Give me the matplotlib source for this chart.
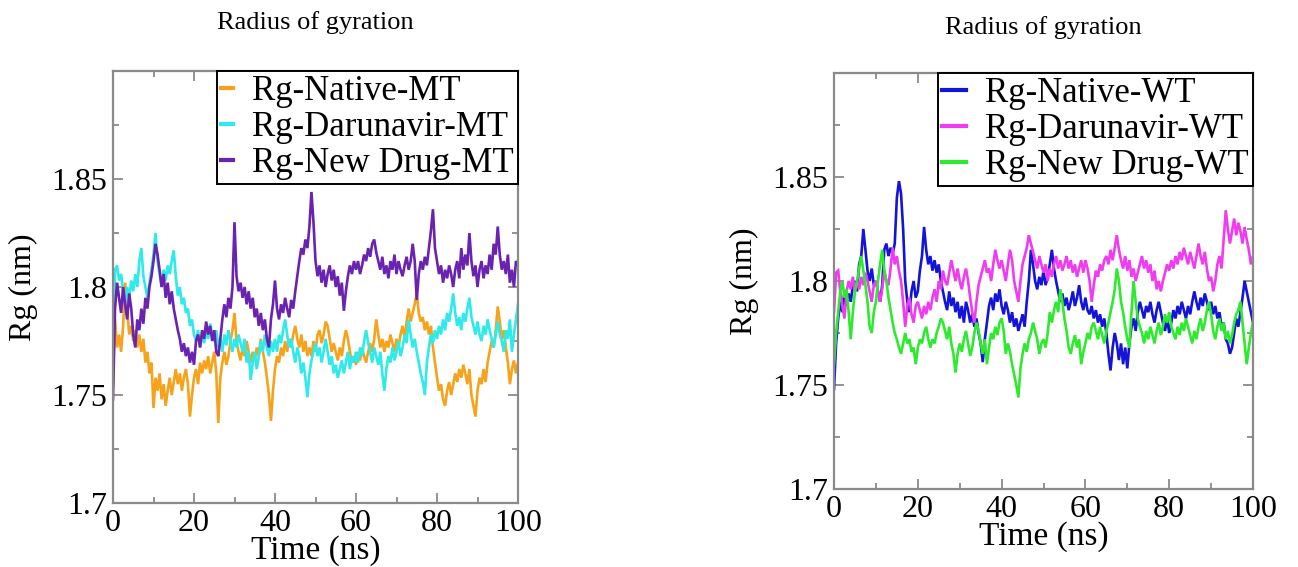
import numpy as np
import matplotlib
matplotlib.use("Agg")
import matplotlib.pyplot as plt
from matplotlib.ticker import FixedLocator, MultipleLocator

plt.rcParams['font.family'] = ['Liberation Serif', 'DejaVu Serif']

# ---------------- data ----------------
time_ns = [i * 0.5 for i in range(201)]

rg_native_mt = [
    1.760, 1.785, 1.772, 1.778, 1.770, 1.782, 1.802, 1.790, 1.778, 1.782,
    1.775, 1.780, 1.772, 1.778, 1.770, 1.776, 1.765, 1.770, 1.760, 1.765,
    1.744, 1.758, 1.752, 1.760, 1.748, 1.755, 1.745, 1.752, 1.758, 1.750,
    1.756, 1.762, 1.755, 1.760, 1.752, 1.758, 1.762, 1.755, 1.740, 1.750,
    1.758, 1.762, 1.755, 1.765, 1.760, 1.766, 1.762, 1.768, 1.760, 1.765,
    1.770, 1.760, 1.737, 1.758, 1.765, 1.770, 1.764, 1.768, 1.775, 1.780,
    1.788, 1.775, 1.770, 1.766, 1.772, 1.768, 1.775, 1.770, 1.765, 1.770,
    1.766, 1.772, 1.768, 1.776, 1.770, 1.765, 1.758, 1.750, 1.738, 1.752,
    1.762, 1.768, 1.765, 1.772, 1.768, 1.775, 1.770, 1.776, 1.772, 1.778,
    1.782, 1.776, 1.772, 1.778, 1.770, 1.775, 1.768, 1.772, 1.768, 1.775,
    1.770, 1.778, 1.780, 1.774, 1.778, 1.784, 1.782, 1.776, 1.770, 1.774,
    1.770, 1.766, 1.772, 1.768, 1.775, 1.780, 1.776, 1.770, 1.765, 1.768,
    1.764, 1.770, 1.766, 1.772, 1.768, 1.765, 1.770, 1.774, 1.770, 1.776,
    1.785, 1.778, 1.772, 1.776, 1.770, 1.775, 1.772, 1.778, 1.774, 1.770,
    1.776, 1.772, 1.778, 1.782, 1.776, 1.784, 1.790, 1.784, 1.788, 1.792,
    1.797, 1.788, 1.784, 1.786, 1.780, 1.784, 1.778, 1.782, 1.772, 1.765,
    1.758, 1.752, 1.755, 1.748, 1.745, 1.752, 1.756, 1.750, 1.755, 1.760,
    1.756, 1.762, 1.758, 1.764, 1.760, 1.755, 1.762, 1.750, 1.745, 1.740,
    1.752, 1.758, 1.755, 1.762, 1.756, 1.765, 1.770, 1.775, 1.772, 1.780,
    1.791, 1.784, 1.776, 1.780, 1.772, 1.765, 1.755, 1.762, 1.766, 1.760,
    1.765,
]

rg_darunavir_mt = [
    1.755, 1.808, 1.810, 1.803, 1.806, 1.798, 1.792, 1.800, 1.795, 1.803,
    1.798, 1.806, 1.800, 1.812, 1.818, 1.805, 1.800, 1.795, 1.802, 1.808,
    1.815, 1.825, 1.812, 1.806, 1.800, 1.808, 1.803, 1.810, 1.806, 1.812,
    1.817, 1.805, 1.796, 1.800, 1.792, 1.795, 1.788, 1.790, 1.782, 1.785,
    1.778, 1.775, 1.780, 1.772, 1.778, 1.774, 1.780, 1.776, 1.783, 1.778,
    1.775, 1.780, 1.772, 1.776, 1.770, 1.778, 1.773, 1.780, 1.775, 1.770,
    1.776, 1.772, 1.778, 1.774, 1.770, 1.776, 1.765, 1.770, 1.757, 1.765,
    1.770, 1.762, 1.768, 1.775, 1.770, 1.778, 1.772, 1.768, 1.775, 1.770,
    1.776, 1.770, 1.778, 1.774, 1.780, 1.785, 1.778, 1.772, 1.776, 1.770,
    1.765, 1.772, 1.768, 1.760, 1.765, 1.758, 1.749, 1.760, 1.766, 1.770,
    1.774, 1.768, 1.772, 1.765, 1.770, 1.776, 1.770, 1.764, 1.768, 1.760,
    1.764, 1.758, 1.762, 1.766, 1.760, 1.765, 1.770, 1.762, 1.768, 1.765,
    1.770, 1.765, 1.772, 1.768, 1.775, 1.780, 1.774, 1.770, 1.765, 1.772,
    1.768, 1.764, 1.770, 1.760, 1.752, 1.762, 1.768, 1.765, 1.772, 1.766,
    1.770, 1.775, 1.768, 1.772, 1.778, 1.774, 1.785, 1.778, 1.772, 1.776,
    1.770, 1.765, 1.760, 1.756, 1.750, 1.765, 1.772, 1.778, 1.774, 1.780,
    1.776, 1.782, 1.778, 1.785, 1.780, 1.788, 1.784, 1.790, 1.797, 1.788,
    1.782, 1.786, 1.780, 1.788, 1.784, 1.790, 1.795, 1.786, 1.782, 1.778,
    1.784, 1.778, 1.775, 1.782, 1.778, 1.785, 1.780, 1.776, 1.772, 1.778,
    1.784, 1.778, 1.775, 1.770, 1.780, 1.776, 1.785, 1.770, 1.778, 1.785,
    1.792,
]

rg_newdrug_mt = [
    1.748, 1.790, 1.802, 1.795, 1.788, 1.800, 1.792, 1.785, 1.797, 1.790,
    1.778, 1.772, 1.785, 1.780, 1.790, 1.783, 1.795, 1.790, 1.800, 1.805,
    1.812, 1.820, 1.815, 1.808, 1.800, 1.806, 1.795, 1.802, 1.792, 1.798,
    1.790, 1.785, 1.780, 1.776, 1.770, 1.774, 1.768, 1.772, 1.765, 1.770,
    1.764, 1.775, 1.778, 1.772, 1.780, 1.776, 1.784, 1.778, 1.782, 1.775,
    1.780, 1.770, 1.768, 1.776, 1.785, 1.792, 1.786, 1.795, 1.790, 1.800,
    1.830, 1.805, 1.798, 1.802, 1.795, 1.800, 1.792, 1.798, 1.790, 1.795,
    1.786, 1.790, 1.782, 1.788, 1.780, 1.785, 1.776, 1.772, 1.785, 1.792,
    1.803, 1.790, 1.785, 1.792, 1.788, 1.795, 1.790, 1.786, 1.794, 1.790,
    1.798, 1.805, 1.812, 1.818, 1.815, 1.822, 1.818, 1.828, 1.844, 1.830,
    1.812, 1.805, 1.810, 1.802, 1.808, 1.800, 1.806, 1.810, 1.803, 1.808,
    1.800, 1.805, 1.796, 1.802, 1.789, 1.798, 1.805, 1.810, 1.806, 1.812,
    1.808, 1.812, 1.806, 1.810, 1.815, 1.812, 1.818, 1.814, 1.820, 1.822,
    1.816, 1.812, 1.808, 1.814, 1.806, 1.810, 1.804, 1.812, 1.808, 1.815,
    1.806, 1.812, 1.808, 1.805, 1.810, 1.814, 1.808, 1.812, 1.820, 1.812,
    1.794, 1.806, 1.812, 1.808, 1.814, 1.810, 1.818, 1.826, 1.836, 1.818,
    1.812, 1.806, 1.810, 1.802, 1.808, 1.804, 1.810, 1.806, 1.800, 1.808,
    1.812, 1.804, 1.818, 1.808, 1.815, 1.810, 1.825, 1.812, 1.805, 1.810,
    1.800, 1.808, 1.812, 1.804, 1.810, 1.806, 1.815, 1.808, 1.820, 1.815,
    1.828, 1.815, 1.808, 1.812, 1.806, 1.815, 1.802, 1.808, 1.800, 1.812,
    1.810,
]

rg_native_wt = [
    1.748, 1.770, 1.782, 1.790, 1.785, 1.795, 1.788, 1.794, 1.790, 1.798,
    1.800, 1.795, 1.808, 1.812, 1.825, 1.815, 1.805, 1.800, 1.806, 1.798,
    1.800, 1.795, 1.790, 1.798, 1.815, 1.818, 1.812, 1.816, 1.813, 1.818,
    1.840, 1.848, 1.842, 1.825, 1.800, 1.790, 1.785, 1.795, 1.800, 1.792,
    1.795, 1.805, 1.812, 1.826, 1.815, 1.808, 1.812, 1.805, 1.810, 1.804,
    1.808, 1.800, 1.795, 1.790, 1.786, 1.795, 1.788, 1.792, 1.785, 1.790,
    1.782, 1.788, 1.780, 1.790, 1.786, 1.780, 1.784, 1.778, 1.782, 1.775,
    1.770, 1.761, 1.772, 1.780, 1.788, 1.792, 1.786, 1.794, 1.790, 1.796,
    1.788, 1.784, 1.790, 1.786, 1.780, 1.785, 1.778, 1.782, 1.776, 1.780,
    1.784, 1.778, 1.790, 1.800, 1.815, 1.808, 1.800, 1.796, 1.802, 1.798,
    1.805, 1.798, 1.802, 1.808, 1.815, 1.806, 1.800, 1.795, 1.790, 1.794,
    1.788, 1.792, 1.786, 1.790, 1.795, 1.788, 1.792, 1.798, 1.790, 1.786,
    1.792, 1.786, 1.784, 1.788, 1.782, 1.786, 1.780, 1.784, 1.778, 1.782,
    1.775, 1.765, 1.757, 1.768, 1.775, 1.770, 1.762, 1.770, 1.760, 1.768,
    1.758, 1.770, 1.778, 1.782, 1.776, 1.785, 1.790, 1.786, 1.782, 1.788,
    1.785, 1.790, 1.784, 1.780, 1.786, 1.790, 1.785, 1.780, 1.776, 1.782,
    1.775, 1.780, 1.786, 1.782, 1.788, 1.784, 1.790, 1.786, 1.782, 1.788,
    1.784, 1.790, 1.795, 1.790, 1.786, 1.792, 1.788, 1.794, 1.790, 1.786,
    1.790, 1.784, 1.788, 1.782, 1.785, 1.778, 1.780, 1.772, 1.770, 1.765,
    1.768, 1.775, 1.782, 1.778, 1.785, 1.792, 1.800, 1.795, 1.790, 1.785,
    1.780,
]

rg_darunavir_wt = [
    1.785, 1.804, 1.805, 1.795, 1.788, 1.782, 1.795, 1.800, 1.796, 1.802,
    1.795, 1.800, 1.796, 1.802, 1.798, 1.804, 1.800, 1.795, 1.790, 1.798,
    1.800, 1.795, 1.790, 1.796, 1.805, 1.800, 1.798, 1.806, 1.816, 1.808,
    1.812, 1.805, 1.800, 1.790, 1.778, 1.788, 1.792, 1.784, 1.780, 1.788,
    1.790, 1.786, 1.782, 1.788, 1.784, 1.790, 1.786, 1.792, 1.796, 1.790,
    1.800, 1.796, 1.805, 1.800, 1.798, 1.804, 1.810, 1.805, 1.800, 1.806,
    1.800, 1.796, 1.802, 1.806, 1.800, 1.792, 1.785, 1.780, 1.790, 1.798,
    1.802, 1.806, 1.810, 1.804, 1.806, 1.800, 1.808, 1.815, 1.810, 1.806,
    1.810, 1.805, 1.800, 1.808, 1.815, 1.810, 1.800, 1.795, 1.790, 1.800,
    1.808, 1.812, 1.816, 1.822, 1.818, 1.814, 1.810, 1.806, 1.812, 1.808,
    1.804, 1.808, 1.800, 1.806, 1.802, 1.808, 1.812, 1.806, 1.810, 1.805,
    1.808, 1.812, 1.806, 1.810, 1.804, 1.808, 1.802, 1.806, 1.810, 1.804,
    1.810, 1.806, 1.800, 1.790, 1.798, 1.805, 1.802, 1.808, 1.805, 1.810,
    1.812, 1.808, 1.815, 1.810, 1.816, 1.822, 1.815, 1.810, 1.806, 1.812,
    1.805, 1.810, 1.802, 1.806, 1.800, 1.804, 1.808, 1.812, 1.806, 1.810,
    1.804, 1.808, 1.800, 1.805, 1.796, 1.800, 1.795, 1.800, 1.804, 1.808,
    1.805, 1.810, 1.806, 1.812, 1.808, 1.814, 1.810, 1.816, 1.812, 1.808,
    1.814, 1.810, 1.806, 1.812, 1.818, 1.812, 1.808, 1.814, 1.806, 1.800,
    1.802, 1.795, 1.800, 1.808, 1.812, 1.806, 1.820, 1.834, 1.825, 1.818,
    1.824, 1.830, 1.822, 1.828, 1.824, 1.818, 1.826, 1.820, 1.815, 1.808,
    1.812,
]

rg_newdrug_wt = [
    1.760, 1.775, 1.785, 1.795, 1.800, 1.792, 1.796, 1.785, 1.772, 1.785,
    1.795, 1.800, 1.806, 1.812, 1.805, 1.798, 1.790, 1.778, 1.775, 1.785,
    1.790, 1.800, 1.808, 1.815, 1.805, 1.800, 1.792, 1.786, 1.780, 1.775,
    1.772, 1.768, 1.765, 1.770, 1.775, 1.770, 1.772, 1.766, 1.768, 1.760,
    1.768, 1.772, 1.770, 1.775, 1.778, 1.772, 1.768, 1.772, 1.770, 1.775,
    1.778, 1.782, 1.780, 1.776, 1.772, 1.778, 1.770, 1.765, 1.756, 1.765,
    1.770, 1.766, 1.772, 1.776, 1.770, 1.764, 1.768, 1.775, 1.780, 1.776,
    1.770, 1.765, 1.772, 1.760, 1.768, 1.775, 1.772, 1.778, 1.774, 1.780,
    1.782, 1.776, 1.765, 1.770, 1.766, 1.760, 1.755, 1.750, 1.744, 1.758,
    1.765, 1.770, 1.766, 1.772, 1.775, 1.780, 1.776, 1.772, 1.765, 1.770,
    1.772, 1.768, 1.775, 1.785, 1.780, 1.786, 1.790, 1.785, 1.796, 1.790,
    1.782, 1.776, 1.768, 1.765, 1.770, 1.774, 1.768, 1.772, 1.760, 1.766,
    1.770, 1.775, 1.772, 1.778, 1.780, 1.776, 1.772, 1.778, 1.774, 1.770,
    1.776, 1.780, 1.785, 1.790, 1.796, 1.806, 1.800, 1.790, 1.785, 1.778,
    1.772, 1.768, 1.785, 1.800, 1.790, 1.782, 1.778, 1.775, 1.770, 1.776,
    1.772, 1.778, 1.774, 1.770, 1.776, 1.780, 1.774, 1.778, 1.784, 1.780,
    1.785, 1.778, 1.775, 1.772, 1.778, 1.774, 1.780, 1.776, 1.782, 1.778,
    1.774, 1.770, 1.776, 1.772, 1.778, 1.782, 1.776, 1.780, 1.786, 1.790,
    1.784, 1.776, 1.772, 1.778, 1.782, 1.776, 1.780, 1.772, 1.776, 1.770,
    1.774, 1.780, 1.784, 1.786, 1.790, 1.780, 1.770, 1.760, 1.768, 1.775,
    1.780,
]

labels_mt = ["Rg-Native-MT", "Rg-Darunavir-MT", "Rg-New Drug-MT"]
labels_wt = ["Rg-Native-WT", "Rg-Darunavir-WT", "Rg-New Drug-WT"]
colors_mt = ["#F7A21B", "#2EEAEA", "#6A22B0"]
colors_wt = ["#1414D8", "#F03CF0", "#2EEA2E"]

title_text = "Radius of gyration"
xlabel_text = "Time (ns)"
ylabel_text = "Rg (nm)"
y_ticks = [1.7, 1.75, 1.8, 1.85]
y_ticklabels = ["1.7", "1.75", "1.8", "1.85"]
x_ticks = [0, 20, 40, 60, 80, 100]

# ---------------- figure ----------------
W, H = 1298, 567
fig = plt.figure(figsize=(W / 100, H / 100), dpi=100)

def px_axes(l, t, r, b):
    return fig.add_axes([l / W, 1 - b / H, (r - l) / W, (b - t) / H])

ax1 = px_axes(113, 71, 518, 503)
ax2 = px_axes(834, 73, 1253, 489)

spine_col = "#8a8a8a"

def style(ax, series, labels, colors, title_pad, handle_len):
    for ys, lab, c in zip(series, labels, colors):
        ax.plot(time_ns, ys, color=c, lw=1.9, label=lab, solid_joinstyle='miter')
    ax.set_xlim(0, 100)
    ax.set_ylim(1.7, 1.9)
    ax.xaxis.set_major_locator(FixedLocator(x_ticks))
    ax.xaxis.set_minor_locator(MultipleLocator(10))
    ax.yaxis.set_major_locator(FixedLocator(y_ticks))
    ax.set_yticklabels(y_ticklabels)
    ax.yaxis.set_minor_locator(MultipleLocator(0.025))
    ax.tick_params(which='both', direction='in', top=True, right=True,
                   color=spine_col, width=1.3, labelsize=23, labelcolor='black')
    ax.tick_params(which='major', length=7, pad=4)
    ax.tick_params(which='minor', length=4.5)
    for s in ax.spines.values():
        s.set_color(spine_col)
        s.set_linewidth(1.6)
    ax.set_xlabel(xlabel_text, fontsize=24, labelpad=-1.5)
    ax.set_ylabel(ylabel_text, fontsize=23, labelpad=10)
    ax.set_title(title_text, fontsize=19, pad=title_pad)
    leg = ax.legend(loc='upper right', fontsize=25, frameon=True, fancybox=False,
                    framealpha=1, edgecolor='black', borderaxespad=0,
                    handlelength=handle_len, handletextpad=0.55, labelspacing=0.08,
                    borderpad=0.12)
    leg.get_frame().set_linewidth(1.4)
    for ln in leg.get_lines():
        ln.set_linewidth(3)

style(ax1, [rg_native_mt, rg_darunavir_mt, rg_newdrug_mt], labels_mt, colors_mt, 30, 0.35)
style(ax2, [rg_native_wt, rg_darunavir_wt, rg_newdrug_wt], labels_wt, colors_wt, 28, 0.7)

fig.savefig("out.png", dpi=100)
